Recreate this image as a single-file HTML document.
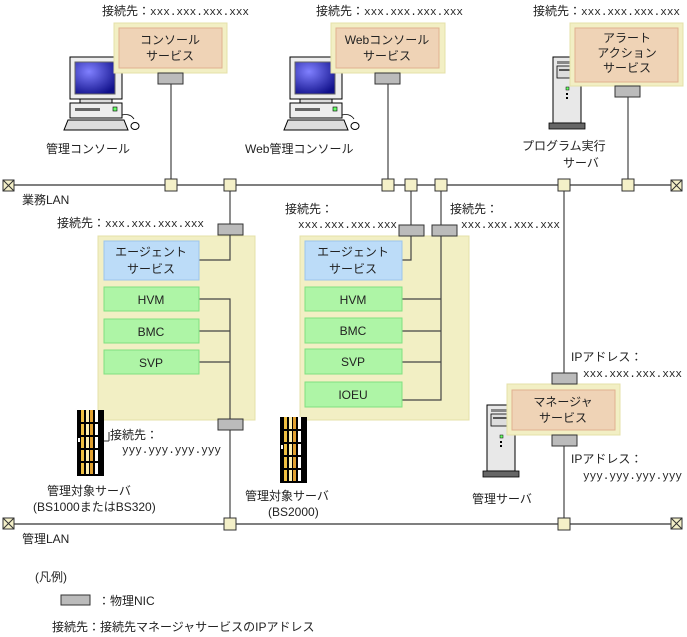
<!DOCTYPE html>
<html><head><meta charset="utf-8"><style>
html,body{margin:0;padding:0;background:#fff}
svg{display:block}
text{font-family:"Liberation Sans","Noto Sans CJK JP",sans-serif;font-size:12px;fill:#222}
.m{font-family:"Liberation Mono","Noto Sans CJK JP",monospace;font-size:11px}
</style></head><body>
<svg width="687" height="637" viewBox="0 0 687 637" xmlns="http://www.w3.org/2000/svg">
<defs>
<radialGradient id="scr" cx="0.35" cy="0.3" r="0.8"><stop offset="0" stop-color="#8080ff"/><stop offset="1" stop-color="#10108a"/></radialGradient>
<g id="pc">
<rect x="6" y="2" width="52" height="42" fill="#eee" stroke="#000"/>
<rect x="11" y="7" width="40" height="32" fill="url(#scr)" stroke="#666"/>
<rect x="16" y="44" width="32" height="4" fill="#ddd" stroke="#000"/>
<rect x="6" y="48" width="52" height="15" fill="#eee" stroke="#000"/>
<rect x="11" y="53" width="25" height="3" fill="#666"/>
<rect x="49" y="52" width="4" height="4" fill="#6f6" stroke="#000" stroke-width="0.6"/>
<polygon points="4,65 60,65 64,75 0,75" fill="#ddd" stroke="#000"/>
<path d="M58,60 q8,-2 12,4" fill="none" stroke="#000" stroke-width="0.8"/>
<ellipse cx="71" cy="71" rx="4" ry="3.5" fill="#fff" stroke="#000"/>
</g>
<g id="tower">
<rect x="4" y="0" width="28" height="66" fill="#e8e8e8" stroke="#000"/>
<rect x="8" y="4" width="20" height="3" fill="#888"/>
<rect x="8" y="9" width="20" height="12" fill="#ddd" stroke="#000" stroke-width="0.8"/>
<rect x="10" y="12" width="16" height="2" fill="#555"/>
<rect x="17" y="30" width="3" height="3" fill="#6f6" stroke="#000" stroke-width="0.5"/>
<rect x="17" y="36" width="2" height="2" fill="#000"/><rect x="17" y="40" width="2" height="2" fill="#000"/>
<rect x="0" y="66" width="36" height="6" fill="#666" stroke="#000" stroke-width="0.8"/>
</g>
<g id="blade">
<rect x="0" y="0" width="27" height="66" fill="#000"/>
<rect x="4" y="0" width="3" height="64" fill="#f0c040"/><rect x="9" y="0" width="3" height="64" fill="#fff0b0"/>
<rect x="13" y="0" width="3" height="64" fill="#e0a030"/><rect x="18" y="0" width="3" height="64" fill="#fff"/>
<rect x="0" y="12" width="22" height="2" fill="#000"/><rect x="0" y="25" width="22" height="2" fill="#000"/>
<rect x="0" y="38" width="22" height="2" fill="#000"/><rect x="0" y="51" width="22" height="2" fill="#000"/>
<rect x="1" y="28" width="2" height="4" fill="#fff"/>
</g>
<g id="tm"><rect x="0" y="0" width="11" height="11" fill="#f4f0c8" stroke="#333"/><path d="M0,0L11,11M11,0L0,11" stroke="#333"/></g>
</defs>

<line x1="12" y1="185" x2="675" y2="185" stroke="#555" stroke-width="1.5"/>
<line x1="12" y1="524" x2="675" y2="524" stroke="#555" stroke-width="1.5"/>
<use href="#tm" x="3" y="180"/><use href="#tm" x="671" y="180"/>
<use href="#tm" x="3" y="518"/><use href="#tm" x="671" y="518"/>
<text x="22" y="204">業務LAN</text>
<text x="22" y="543">管理LAN</text>

<rect x="98" y="236" width="157" height="184" fill="#f2efc4" stroke="#e4e0a8"/>
<rect x="300" y="236" width="169" height="184" fill="#f2efc4" stroke="#e4e0a8"/>

<g stroke="#444" stroke-width="1.2" fill="none">
<line x1="171" y1="84" x2="171" y2="185"/>
<line x1="388" y1="84" x2="388" y2="185"/>
<line x1="628" y1="97" x2="628" y2="185"/>
<polyline points="230,185 230,260 199,260"/>
<polyline points="199,299 230,299 230,524"/>
<line x1="564" y1="185" x2="564" y2="524"/>
<line x1="199" y1="331" x2="230" y2="331"/><line x1="199" y1="362" x2="230" y2="362"/>
<polyline points="411,185 411,260 402,260"/>
<polyline points="441,185 441,400 402,400"/>
<line x1="402" y1="299" x2="441" y2="299"/><line x1="402" y1="331" x2="441" y2="331"/><line x1="402" y1="362" x2="441" y2="362"/>
</g>

<use href="#pc" x="64" y="55"/>
<use href="#pc" x="284" y="55"/>
<use href="#tower" x="549" y="57"/>
<use href="#tower" x="483" y="405"/>
<use href="#blade" x="77" y="410"/>
<use href="#blade" x="280" y="417"/>

<rect x="114" y="23" width="113" height="50" fill="#f2efc4" stroke="#e4e0a8"/>
<rect x="119" y="28" width="103" height="40" fill="#efd3b6" stroke="#e0b090"/>
<text x="170" y="44" text-anchor="middle">コンソール</text><text x="170" y="60" text-anchor="middle">サービス</text>
<rect x="158" y="73" width="25" height="11" fill="#bbb" stroke="#333"/>
<text x="102" y="15">接続先：<tspan class="m">xxx.xxx.xxx.xxx</tspan></text>
<text x="46" y="153">管理コンソール</text>

<rect x="331" y="23" width="114" height="50" fill="#f2efc4" stroke="#e4e0a8"/>
<rect x="336" y="28" width="103" height="40" fill="#efd3b6" stroke="#e0b090"/>
<text x="387" y="44" text-anchor="middle">Webコンソール</text><text x="387" y="60" text-anchor="middle">サービス</text>
<rect x="375" y="73" width="25" height="11" fill="#bbb" stroke="#333"/>
<text x="316" y="15">接続先：<tspan class="m">xxx.xxx.xxx.xxx</tspan></text>
<text x="245" y="153">Web管理コンソール</text>

<rect x="570" y="23" width="113" height="63" fill="#f2efc4" stroke="#e4e0a8"/>
<rect x="575" y="28" width="103" height="54" fill="#efd3b6" stroke="#e0b090"/>
<text x="627" y="42" text-anchor="middle">アラート</text><text x="627" y="57" text-anchor="middle">アクション</text><text x="627" y="72" text-anchor="middle">サービス</text>
<rect x="615" y="86" width="25" height="11" fill="#bbb" stroke="#333"/>
<text x="533" y="15">接続先：<tspan class="m">xxx.xxx.xxx.xxx</tspan></text>
<text x="522" y="150">プログラム実行</text><text x="563" y="167">サーバ</text>

<rect x="104" y="241" width="95" height="39" fill="#bcdcf8" stroke="#9cc4ec"/>
<text x="151" y="256" text-anchor="middle">エージェント</text><text x="151" y="273" text-anchor="middle">サービス</text>
<rect x="104" y="287" width="95" height="24" fill="#aef5a6" stroke="#80e080"/><text x="151" y="304" text-anchor="middle">HVM</text>
<rect x="104" y="319" width="95" height="24" fill="#aef5a6" stroke="#80e080"/><text x="151" y="336" text-anchor="middle">BMC</text>
<rect x="104" y="350" width="95" height="24" fill="#aef5a6" stroke="#80e080"/><text x="151" y="367" text-anchor="middle">SVP</text>
<rect x="218" y="224" width="25" height="11" fill="#bbb" stroke="#333"/>
<rect x="218" y="419" width="25" height="11" fill="#bbb" stroke="#333"/>
<text x="57" y="227">接続先：<tspan class="m">xxx.xxx.xxx.xxx</tspan></text>

<rect x="305" y="241" width="97" height="39" fill="#bcdcf8" stroke="#9cc4ec"/>
<text x="353" y="256" text-anchor="middle">エージェント</text><text x="353" y="273" text-anchor="middle">サービス</text>
<rect x="305" y="287" width="97" height="24" fill="#aef5a6" stroke="#80e080"/><text x="353" y="304" text-anchor="middle">HVM</text>
<rect x="305" y="318" width="97" height="25" fill="#aef5a6" stroke="#80e080"/><text x="353" y="335" text-anchor="middle">BMC</text>
<rect x="305" y="349" width="97" height="25" fill="#aef5a6" stroke="#80e080"/><text x="353" y="366" text-anchor="middle">SVP</text>
<rect x="305" y="382" width="97" height="25" fill="#aef5a6" stroke="#80e080"/><text x="353" y="399" text-anchor="middle">IOEU</text>
<rect x="399" y="225" width="25" height="11" fill="#bbb" stroke="#333"/>
<rect x="432" y="225" width="25" height="11" fill="#bbb" stroke="#333"/>
<text x="285" y="213">接続先：</text><text x="298" y="228" class="m">xxx.xxx.xxx.xxx</text>
<text x="450" y="213">接続先：</text><text x="461" y="228" class="m">xxx.xxx.xxx.xxx</text>

<rect x="507" y="384" width="113" height="51" fill="#f2efc4" stroke="#e4e0a8"/>
<rect x="512" y="390" width="103" height="40" fill="#efd3b6" stroke="#e0b090"/>
<text x="563" y="406" text-anchor="middle">マネージャ</text><text x="563" y="422" text-anchor="middle">サービス</text>
<rect x="552" y="373" width="25" height="11" fill="#bbb" stroke="#333"/>
<rect x="552" y="435" width="25" height="11" fill="#bbb" stroke="#333"/>
<text x="571" y="361">IPアドレス：</text><text x="583" y="377" class="m">xxx.xxx.xxx.xxx</text>
<text x="571" y="463">IPアドレス：</text><text x="583" y="479" class="m">yyy.yyy.yyy.yyy</text>
<text x="472" y="503">管理サーバ</text>

<line x1="104" y1="441" x2="109" y2="441" stroke="#333"/>
<line x1="109" y1="441" x2="109" y2="432" stroke="#333"/>
<text x="110" y="439">接続先：</text><text x="122" y="453" class="m">yyy.yyy.yyy.yyy</text>
<text x="47" y="495">管理対象サーバ</text><text x="33" y="511">(BS1000またはBS320)</text>
<text x="245" y="500">管理対象サーバ</text><text x="268" y="516">(BS2000)</text>

<g fill="#f4f0c8" stroke="#333">
<rect x="165" y="179" width="12" height="12"/><rect x="224" y="179" width="12" height="12"/>
<rect x="382" y="179" width="12" height="12"/><rect x="405" y="179" width="12" height="12"/>
<rect x="435" y="179" width="12" height="12"/><rect x="558" y="179" width="12" height="12"/>
<rect x="622" y="179" width="12" height="12"/>
<rect x="224" y="518" width="12" height="12"/><rect x="558" y="518" width="12" height="12"/>
</g>

<text x="35" y="581">(凡例)</text>
<rect x="61" y="595" width="29" height="10" fill="#bbb" stroke="#333"/>
<text x="98" y="605">：物理NIC</text>
<text x="52" y="631">接続先：接続先マネージャサービスのIPアドレス</text>
</svg>
</body></html>
